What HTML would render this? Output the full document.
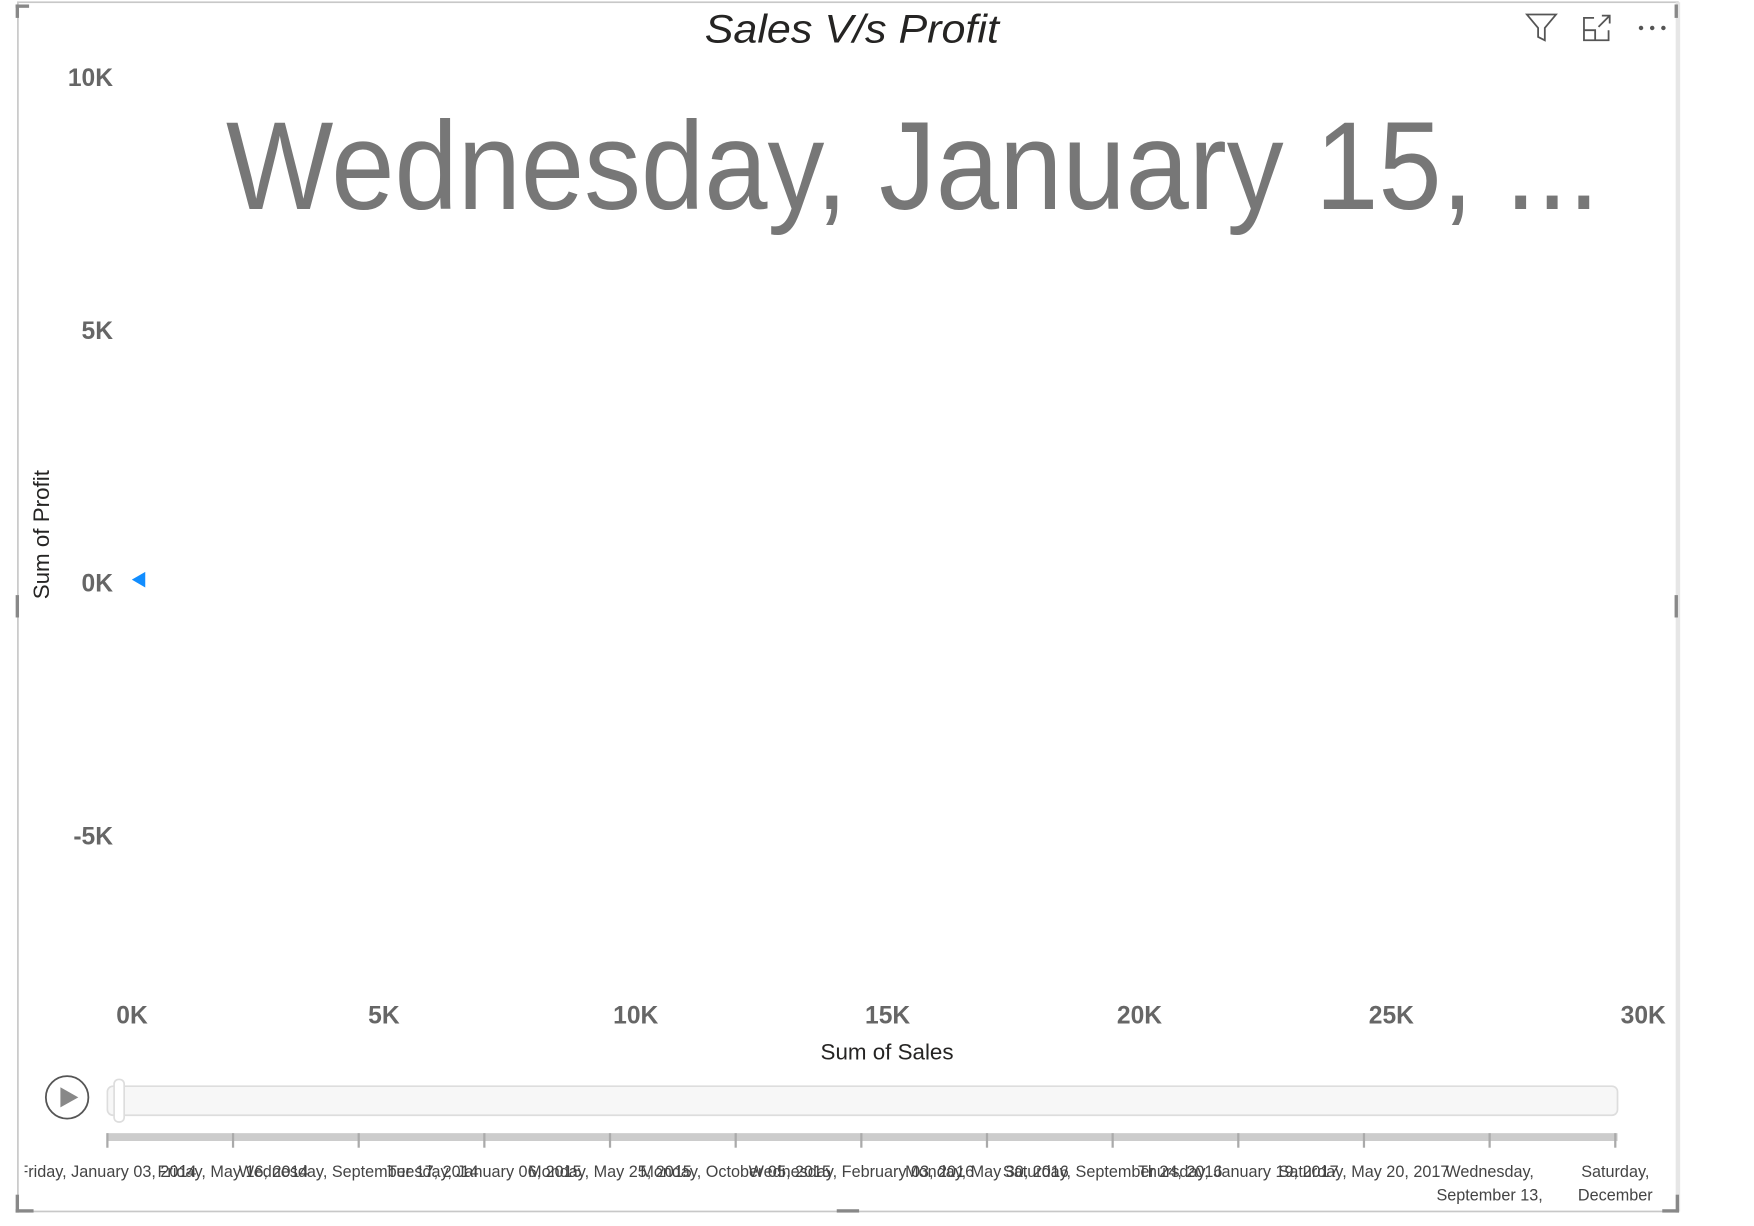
<!DOCTYPE html>
<html><head><meta charset="utf-8"><style>
html,body{margin:0;padding:0;background:#fff;width:1754px;height:1226px;overflow:hidden;font-family:"Liberation Sans",sans-serif}
#root{position:absolute;left:0;top:0;width:1568px;height:1096px;transform:scale(1.11862);transform-origin:0 0}
</style></head><body>
<div id="root">
<svg id="chart" width="1568" height="1096" style="position:absolute;left:0;top:0">
  <defs><clipPath id="fc"><rect x="22" y="0" width="1476" height="1096"/></clipPath></defs>
  <rect x="16" y="2" width="1484" height="1081" fill="#fff" stroke="#c8c8c8" stroke-width="1.5"/>
  <line x1="1500" y1="2" x2="1500" y2="1083" stroke="#e6e6e6" stroke-width="4"/>
  <text x="630" y="38" textLength="263" lengthAdjust="spacingAndGlyphs" font-size="36" font-style="italic" fill="#252423">Sales V/s Profit</text>
  <g fill="none" stroke="#555" stroke-width="1.6"><path d="M1365 13 H1391 L1381 25 V36 L1375 33 V25 Z"/></g>
  <g fill="none" stroke="#555" stroke-width="1.6"><path d="M1425 16 H1416 V36 H1438 V27"/><path d="M1416 27 H1426 V36"/><path d="M1429 24 L1439 14 M1432 14 H1439 V21"/></g>
  <g fill="#555"><circle cx="1467" cy="25" r="2"/><circle cx="1477" cy="25" r="2"/><circle cx="1487" cy="25" r="2"/></g>
  <text x="202" y="187" textLength="1228" lengthAdjust="spacingAndGlyphs" font-size="112" fill="#777">Wednesday, January 15, ...</text>
  <text transform="translate(44,478) rotate(-90)" text-anchor="middle" font-size="20" fill="#252423">Sum of Profit</text>
  <text x="793" y="947" text-anchor="middle" font-size="20" fill="#252423">Sum of Sales</text>
  <g id="yticks"></g><g id="xticks"></g><g id="points"></g>
  <circle cx="60" cy="981" r="19" fill="#fff" stroke="#555" stroke-width="1.6"/>
  <path d="M54 972 L70 981 L54 990 Z" fill="#888"/>
  <rect x="96" y="971" width="1350" height="26" rx="5" fill="#f7f7f7" stroke="#ddd" stroke-width="1.5"/>
  <rect x="102" y="965" width="9" height="38" rx="4" fill="#fff" stroke="#ddd" stroke-width="1.5"/>
  <rect x="96" y="1013" width="1350" height="7" fill="#ccc"/>
  <g id="dticks" clip-path="url(#fc)"></g>
  <g fill="#888"><rect x="14" y="1068" width="3" height="16"/><rect x="14" y="1081" width="16" height="3"/><rect x="1498" y="1068" width="3" height="16"/><rect x="1486" y="1081" width="15" height="3"/><rect x="748" y="1081" width="20" height="3"/><rect x="14" y="532" width="3" height="20"/><rect x="1497" y="532" width="3" height="20"/><rect x="14" y="4" width="3" height="12"/><rect x="14" y="4" width="12" height="3"/><rect x="1497" y="4" width="3" height="12"/></g>
</svg>
</div>
<script>
const xTicks=[0,5000,10000,15000,20000,25000,30000];
const xTickLabels=["0K","5K","10K","15K","20K","25K","30K"];
const yTicks=[10000,5000,0,-5000];
const yTickLabels=["10K","5K","0K","-5K"];
const sales=[130];
const profit=[40];
const dateLabels=["Friday, January 03, 2014","Friday, May 16, 2014","Wednesday, September 17, 2014","Tuesday, January 06, 2015","Monday, May 25, 2015","Monday, October 05, 2015","Wednesday, February 03, 2016","Monday, May 30, 2016","Saturday, September 24, 2016","Thursday, January 19, 2017","Saturday, May 20, 2017","Wednesday, September 13, 2017","Saturday, December 30, 2017"];
const NS="http://www.w3.org/2000/svg";
const xS=v=>118+(v/30000)*(1469-118);
const yS=v=>520-(v/5000)*226;
const dS=i=>96+i*(1444-96)/(dateLabels.length-1);
function mk(tag,at,parent,txt){const e=document.createElementNS(NS,tag);for(const k in at)e.setAttribute(k,at[k]);if(txt!==undefined)e.textContent=txt;document.getElementById(parent).appendChild(e);return e;}
yTicks.forEach((v,i)=>{const t=mk('text',{x:101,y:yS(v)+9,'text-anchor':'end','font-size':22,'font-weight':'bold',fill:'#666'},'yticks',yTickLabels[i]);

});
xTicks.forEach((v,i)=>{const t=mk('text',{x:xS(v),y:915,'text-anchor':'middle','font-size':22,'font-weight':'bold',fill:'#666'},'xticks',xTickLabels[i]);

});
sales.forEach((s,i)=>{const x=xS(s),y=yS(profit[i]);const p=mk('path',{d:`M${x-6} ${y} L${x+6} ${y-7} L${x+6} ${y+7} Z`,fill:'#118DFF'},'points');

});
dateLabels.forEach((d,i)=>{const x=dS(i);mk('line',{x1:x,y1:1013,x2:x,y2:1026,stroke:'#aaa','stroke-width':2},'dticks');
let t;
const n=dateLabels.length;
if(i>=n-2){const parts=d.split(' ');t=mk('text',{x:x,y:1052,'text-anchor':'middle','font-size':14.5,fill:'#444'},'dticks');
const a=document.createElementNS(NS,'tspan');a.setAttribute('x',i===n-1?x:x);a.textContent=parts[0];t.appendChild(a);
const b=document.createElementNS(NS,'tspan');b.setAttribute('x',i===n-1?x:x);b.setAttribute('dy','21');b.textContent=i===n-1?parts[1]:parts.slice(1,3).join(' ');t.appendChild(b);}
else{t=mk('text',{x:x,y:1052,'text-anchor':'middle','font-size':14.5,fill:'#444'},'dticks',d);}

});
</script>
</body></html>
